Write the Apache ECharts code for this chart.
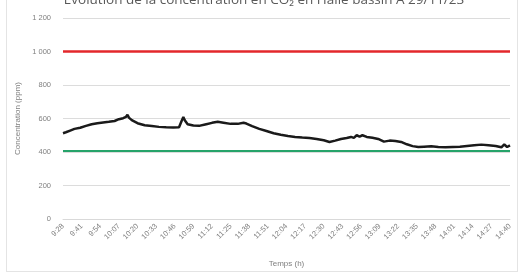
<!DOCTYPE html>
<html>
<head>
<meta charset="utf-8">
<script src="https://cdn.jsdelivr.net/npm/echarts@6/dist/echarts.min.js"></script>
<style>
  html, body { margin: 0; padding: 0; background: #fff; }
  #frame { position: absolute; left: 6px; top: -2px; width: 512px; height: 274px; border: 1px solid #e4e4e4; box-sizing: border-box; }
  #chart { position: absolute; left: 0; top: 0; width: 528px; height: 277px; }
</style>
</head>
<body>
<div id="frame"></div>
<div id="chart"></div>
<script>
const times = ['9:28','9:30','9:33','9:36','9:40','9:44','9:48','9:52','9:56','10:00','10:04','10:07','10:10','10:12','10:13','10:14','10:16','10:20','10:25','10:30','10:35','10:40','10:45','10:49','10:51','10:52','10:53','10:55','10:59','11:03','11:08','11:12','11:16','11:20','11:25','11:30','11:34','11:36','11:40','11:45','11:50','11:55','12:00','12:05','12:10','12:15','12:20','12:25','12:30','12:34','12:38','12:42','12:46','12:49','12:51','12:53','12:55','12:57','13:00','13:04','13:08','13:12','13:16','13:20','13:24','13:28','13:32','13:36','13:40','13:45','13:50','13:55','14:00','14:05','14:10','14:15','14:20','14:25','14:30','14:34','14:36','14:38','14:40']
const co2 = [512,518,528,538,545,556,566,572,576,580,585,596,602,610,622,605,590,572,560,555,550,548,547,548,590,608,590,566,558,556,566,574,580,575,568,568,575,570,555,538,525,512,503,495,490,486,483,478,470,460,468,478,484,490,484,500,492,500,490,485,478,462,468,466,460,446,435,430,432,434,430,428,430,432,436,440,444,440,436,428,445,430,440]
const seuilHaut = 1000
const seuilBas = 410
const yTicks = [0, 200, 400, 600, 800, 1000, 1200]

const start = 9 * 60 + 28
const toMin = t => { const p = t.split(':'); return Number(p[0]) * 60 + Number(p[1]) - start }
const toLabel = m => { const a = start + m; return Math.floor(a / 60) + ':' + String(a % 60).padStart(2, '0') }

const chart = echarts.init(document.getElementById('chart'))
const grey = '#7f7f7f'

chart.setOption({
  animation: false,
  title: {
    text: 'Evolution de la concentration en CO₂ en Halle bassin A 29/11/23',
    left: 'center',
    top: -12,
    textStyle: { fontSize: 13.5, fontWeight: 'normal', color: '#595959', fontFamily: 'Open Sans' }
  },
  grid: { left: 63, right: 18, top: 18, bottom: 58 },
  xAxis: {
    type: 'value',
    min: 0,
    max: 312,
    interval: 13,
    name: 'Temps (h)',
    nameLocation: 'middle',
    nameGap: 41,
    nameTextStyle: { fontSize: 8, color: grey },
    axisLine: { show: true, lineStyle: { color: '#d9d9d9' } },
    axisTick: { show: false },
    splitLine: { show: false },
    axisLabel: { rotate: 45, fontSize: 7.5, color: grey, margin: 6, formatter: v => toLabel(v) }
  },
  yAxis: {
    type: 'value',
    min: yTicks[0],
    max: yTicks[yTicks.length - 1],
    interval: 200,
    name: 'Concentration (ppm)',
    nameLocation: 'middle',
    nameGap: 31,
    nameTextStyle: { fontSize: 8, color: grey },
    axisLine: { show: false },
    axisTick: { show: false },
    splitLine: { lineStyle: { color: '#dcdcdc' } },
    axisLabel: { fontSize: 7.5, color: grey, margin: 12, formatter: v => String(v).replace(/\B(?=(\d{3})+$)/g, ' ') }
  },
  series: [{
    type: 'line',
    data: times.map((t, i) => [toMin(t), co2[i]]),
    symbol: 'none',
    lineStyle: { color: '#1a1a1a', width: 2.5 },
    markLine: {
      silent: true,
      symbol: 'none',
      label: { show: false },
      data: [
        { yAxis: seuilHaut, lineStyle: { color: '#e3272b', width: 2.5, type: 'solid' } },
        { yAxis: seuilBas, lineStyle: { color: '#26a36a', width: 2, type: 'solid' } }
      ]
    }
  }]
})
</script>
</body>
</html>
